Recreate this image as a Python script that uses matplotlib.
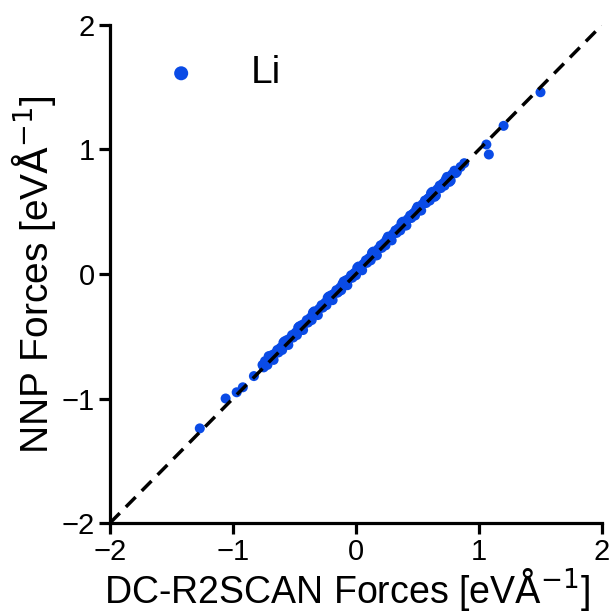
import matplotlib
matplotlib.use("Agg")
import matplotlib.pyplot as plt

plt.rcParams['font.family'] = ['Liberation Sans', 'DejaVu Sans']

# Dense band of Li force components (DC-R2SCAN reference vs NNP prediction)
ref_band = [-0.76, -0.75, -0.73, -0.72, -0.70, -0.69, -0.67, -0.66, -0.64, -0.63,
            -0.61, -0.60, -0.58, -0.57, -0.55, -0.54, -0.52, -0.51, -0.49, -0.48,
            -0.46, -0.45, -0.43, -0.42, -0.40, -0.39, -0.37, -0.36, -0.34, -0.33,
            -0.31, -0.30, -0.28, -0.27, -0.25, -0.24, -0.22, -0.21, -0.19, -0.18,
            -0.16, -0.15, -0.13, -0.12, -0.10, -0.09, -0.07, -0.06, -0.04, -0.03,
            -0.01, 0.00, 0.02, 0.03, 0.05, 0.06, 0.08, 0.09, 0.11, 0.12,
            0.14, 0.15, 0.17, 0.18, 0.20, 0.21, 0.23, 0.24, 0.26, 0.27,
            0.29, 0.30, 0.32, 0.33, 0.35, 0.36, 0.38, 0.39, 0.41, 0.42,
            0.44, 0.45, 0.47, 0.48, 0.50, 0.51, 0.53, 0.54, 0.56, 0.57,
            0.59, 0.60, 0.62, 0.63, 0.65, 0.66, 0.68, 0.69, 0.71, 0.72,
            0.74, 0.75, 0.77, 0.78, 0.80, 0.81]
nnp_band = [-0.73, -0.75, -0.71, -0.73, -0.66, -0.68, -0.69, -0.64, -0.61, -0.63,
            -0.59, -0.61, -0.54, -0.56, -0.57, -0.52, -0.49, -0.51, -0.47, -0.49,
            -0.42, -0.44, -0.45, -0.40, -0.37, -0.39, -0.35, -0.37, -0.30, -0.32,
            -0.33, -0.28, -0.25, -0.27, -0.23, -0.25, -0.18, -0.20, -0.21, -0.16,
            -0.13, -0.15, -0.11, -0.13, -0.06, -0.08, -0.09, -0.04, -0.01, -0.03,
            0.01, -0.01, 0.06, 0.04, 0.03, 0.08, 0.11, 0.09, 0.13, 0.11,
            0.18, 0.16, 0.15, 0.20, 0.23, 0.21, 0.25, 0.23, 0.30, 0.28,
            0.27, 0.32, 0.35, 0.33, 0.37, 0.35, 0.42, 0.40, 0.39, 0.44,
            0.47, 0.45, 0.49, 0.47, 0.54, 0.52, 0.51, 0.56, 0.59, 0.57,
            0.61, 0.59, 0.66, 0.64, 0.63, 0.68, 0.71, 0.69, 0.73, 0.71,
            0.78, 0.76, 0.75, 0.80, 0.83, 0.81]
ref_extra = [-0.74, -0.68, -0.62, -0.56, -0.50, -0.44, -0.38, -0.32, -0.26, -0.20,
             -0.14, -0.08, -0.02, 0.04, 0.10, 0.16, 0.22, 0.28, 0.34, 0.40,
             0.46, 0.52, 0.58, 0.64, 0.70, 0.76, 0.82, 0.85, 0.88,
             -0.71, -0.59, -0.47, -0.35, -0.23, -0.11, 0.01, 0.13, 0.25, 0.37,
             0.49, 0.61, 0.73]
nnp_extra = [-0.70, -0.65, -0.60, -0.53, -0.49, -0.41, -0.37, -0.30, -0.25, -0.17,
             -0.14, -0.05, 0.00, 0.05, 0.12, 0.15, 0.24, 0.28, 0.36, 0.39,
             0.48, 0.51, 0.60, 0.62, 0.72, 0.74, 0.82, 0.86, 0.89,
             -0.66, -0.55, -0.43, -0.31, -0.19, -0.08, 0.05, 0.17, 0.28, 0.41,
             0.52, 0.65, 0.76]
ref_outliers = [-1.27, -1.06, -0.97, -0.92, -0.83, 1.06, 1.08, 1.20, 1.50]
nnp_outliers = [-1.24, -1.00, -0.95, -0.91, -0.82, 1.04, 0.96, 1.19, 1.46]

series_label = "Li"
axis_ticks = [-2, -1, 0, 1, 2]
axis_limits = (-2, 2)

ref_forces = ref_band + ref_extra + ref_outliers
nnp_forces = nnp_band + nnp_extra + nnp_outliers

fig = plt.figure(figsize=(6.12, 6.15), dpi=100)
ax = fig.add_axes([110/612, 92/615, 492/612, 498/615])

ax.scatter(ref_forces, nnp_forces, s=52, color='#0a4be6', edgecolors='none',
           label=series_label, zorder=2)
ax.plot(axis_limits, axis_limits, color='black', linestyle=(0, (4, 2.5)),
        linewidth=2.5, zorder=3)

ax.set_xlim(axis_limits)
ax.set_ylim(axis_limits)
ax.set_xticks(axis_ticks)
ax.set_yticks(axis_ticks)
ax.tick_params(labelsize=21, width=2.3, length=8, direction='out', pad=3)
for side in ('top', 'right'):
    ax.spines[side].set_visible(False)
for side in ('left', 'bottom'):
    ax.spines[side].set_linewidth(2.3)
    ax.spines[side].set_clip_on(False)

ax.set_xlabel(r'DC-R2SCAN Forces [eV$\mathrm{\AA}^{-1}$]', fontsize=27)
ax.set_ylabel(r'NNP Forces [eV$\mathrm{\AA}^{-1}$]', fontsize=28)
ax.xaxis.set_label_coords(0.481, -0.087)
ax.yaxis.set_label_coords(-0.106, 0.498)

ax.legend(loc='upper left', frameon=False, fontsize=28, markerscale=1.4,
          handletextpad=0.8, borderaxespad=0.0, bbox_to_anchor=(0.034, 0.97))

fig.savefig('out.png', dpi=100)
